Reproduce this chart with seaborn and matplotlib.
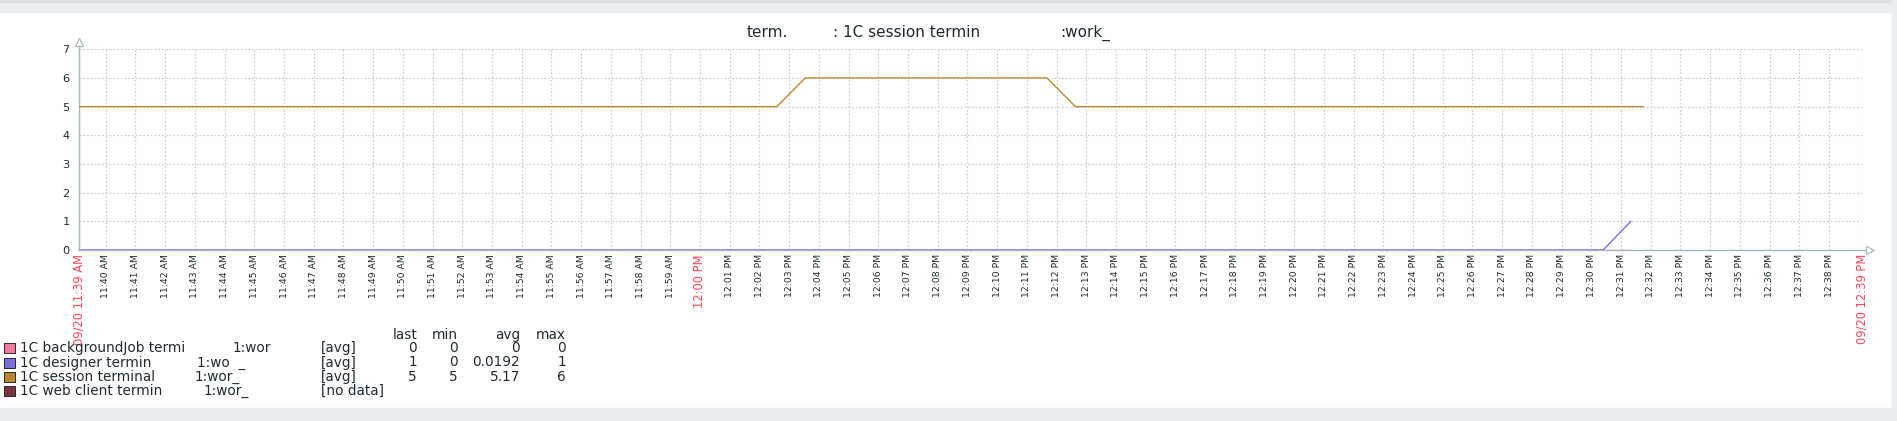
import numpy as np
import pandas as pd
import matplotlib
matplotlib.use("Agg")
import matplotlib.pyplot as plt
from matplotlib.patches import Rectangle
import seaborn as sns

W, H = 1897, 421

# time axis in minutes after 11:39, window of one hour
t_start = 0.11
span = 60.0

# series (minutes after 11:39, value)
bg_t = [0.11, 52.33]
bg_v = [0, 0]
designer_t = [0.11, 51.4, 52.33]
designer_v = [0, 0, 1]
session_t = [0.11, 23.59, 24.54, 32.68, 33.64, 52.75]
session_v = [5, 5, 6, 6, 5, 5]

series = ["backgroundJob", "designer", "session", "web client"]
colors = ["#F27A9E", "#7B6FDB", "#B8892F", "#7A3440"]

# legend texts
leg_left = ["1C backgroundJob termi", "1C designer termin", "1C session terminal", "1C web client termin"]
leg_right = ["1:wor", "1:wo  _", "1:wor_", "1:wor_"]
leg_right_x = [233, 197, 195, 204]
leg_func = ["[avg]", "[avg]", "[avg]", "[no data]"]
stat_last = ["0", "1", "5", ""]
stat_min = ["0", "0", "5", ""]
stat_avg = ["0", "0.0192", "5.17", ""]
stat_max = ["0", "1", "6", ""]

minute_ticks = list(range(1, 60))
minute_labels = [d.strftime("%I:%M %p") for d in pd.date_range("2023-09-20 11:40", periods=59, freq="min")]

TXT = "#1f2c33"
RED = "#FF465C"
GRID = "#c8d1d6"
AXC = "#a7b7bf"

sns.set_style("white")
plt.rcParams["font.family"] = ["DejaVu Sans"]

df = pd.concat([
    pd.DataFrame({"t": bg_t, "v": bg_v, "s": series[0]}),
    pd.DataFrame({"t": designer_t, "v": designer_v, "s": series[1]}),
    pd.DataFrame({"t": session_t, "v": session_v, "s": series[2]}),
])

fig = plt.figure(figsize=(W / 100, H / 100), dpi=100)
fig.patch.set_facecolor("white")

# page frame
fig.patches.append(Rectangle((0, 1 - 12 / H), 1, 12 / H, transform=fig.transFigure, color="#ebeef0", zorder=0))
fig.patches.append(Rectangle((0, 1 - 2 / H), 1, 2 / H, transform=fig.transFigure, color="#dde2e5", zorder=0))
fig.patches.append(Rectangle((0, 0), 1, 13 / H, transform=fig.transFigure, color="#ebeef0", zorder=0))
fig.patches.append(Rectangle((1892 / W, 0), 5 / W, 1, transform=fig.transFigure, color="#ebeef0", zorder=0))

x0, x1 = 79.3, 1862.0
y0, y1 = 250.0, 49.3
ax = fig.add_axes([x0 / W, 1 - y0 / H, (x1 - x0) / W, (y0 - y1) / H])
ax.set_facecolor("white")

sns.lineplot(data=df, x="t", y="v", hue="s", hue_order=series[:3], palette=colors[:3],
             estimator=None, sort=False, linewidth=1.0, legend=False, ax=ax, zorder=3)

ax.set_xlim(t_start, t_start + span)
ax.set_ylim(0, 7)

xt = [t_start] + minute_ticks + [t_start + span]
ax.set_xticks(xt)
ax.set_xticklabels(["09/20 11:39 AM"] + minute_labels + ["09/20 12:39 PM"], rotation=90, va="top", ha="center")
for i, lab in enumerate(ax.get_xticklabels()):
    if i == 0 or i == len(xt) - 1 or lab.get_text() == "12:00 PM":
        lab.set_color(RED)
        lab.set_fontsize(8.3)
    else:
        lab.set_color(TXT)
        lab.set_fontsize(6.7)
ax.set_yticks(range(0, 8))
ax.tick_params(axis="y", length=0, pad=7, labelsize=8.2, labelcolor=TXT)
ax.tick_params(axis="x", length=0, pad=3)
ax.set_xlabel("")
ax.set_ylabel("")

ax.grid(True, linestyle=(0, (1.5, 1.5)), color=GRID, linewidth=0.9)
for s in ["top", "right"]:
    ax.spines[s].set_visible(False)
for s in ["left", "bottom"]:
    ax.spines[s].set_color(AXC)
    ax.spines[s].set_linewidth(1.0)
    ax.spines[s].set_zorder(2)

# axis arrows
ax.plot([0, 0], [1, 1.03], color=AXC, lw=1.0, transform=ax.transAxes, clip_on=False)
ax.plot([0], [1.037], marker="^", ms=6, mfc="white", mec=AXC, mew=0.9, transform=ax.transAxes, clip_on=False)
ax.plot([1, 1.003], [0, 0], color=AXC, lw=1.0, transform=ax.transAxes, clip_on=False)
ax.plot([1.0045], [0], marker=">", ms=6, mfc="white", mec=AXC, mew=0.9, transform=ax.transAxes, clip_on=False)

# title
ty = 1 - 32.7 / H
fig.text(746.7 / W, ty, "term.", fontsize=11, color=TXT, va="center", ha="left")
fig.text(833 / W, ty, ": 1C session termin", fontsize=11, color=TXT, va="center", ha="left")
fig.text(1060 / W, ty, ":work_", fontsize=11, color=TXT, va="center", ha="left")

# legend
fs = 9.8
hy = 1 - 335 / H
cols_x = [417, 458, 520, 566]
for x, h in zip(cols_x, ["last", "min", "avg", "max"]):
    fig.text(x / W, hy, h, fontsize=fs, color=TXT, ha="right", va="center")
row_y = [348.3, 362.5, 376.6, 390.7]
for i in range(4):
    yy = 1 - row_y[i] / H
    fig.patches.append(Rectangle((4 / W, yy - 5 / H), 10.5 / W, 10 / H, transform=fig.transFigure,
                                 facecolor=colors[i], edgecolor="#2b2b2b", lw=0.7, zorder=5))
    fig.text(20.3 / W, yy, leg_left[i], fontsize=fs, color=TXT, ha="left", va="center")
    fig.text(leg_right_x[i] / W, yy, leg_right[i], fontsize=fs, color=TXT, ha="left", va="center")
    fig.text(321 / W, yy, leg_func[i], fontsize=fs, color=TXT, ha="left", va="center")
    for x, vals in zip(cols_x, [stat_last, stat_min, stat_avg, stat_max]):
        if vals[i]:
            fig.text(x / W, yy, vals[i], fontsize=fs, color=TXT, ha="right", va="center")

fig.savefig("out.png", dpi=100, facecolor=fig.get_facecolor())
